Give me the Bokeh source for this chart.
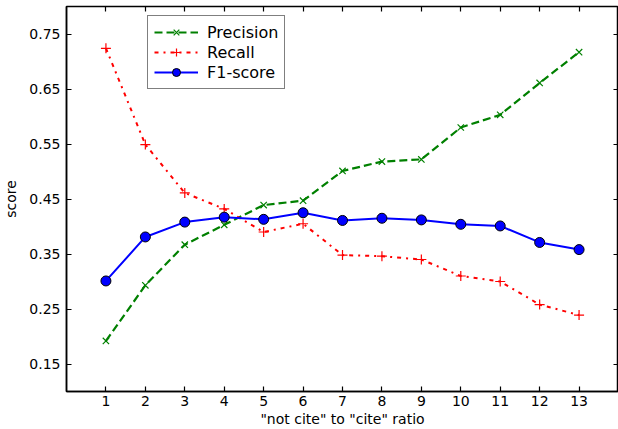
from bokeh.plotting import figure
from bokeh.models import LinearAxis, Legend, LegendItem, FixedTicker, Range1d
from bokeh.embed import file_html
from bokeh.resources import INLINE

ratio = list(range(1, 14))
precision = [0.192, 0.293, 0.367, 0.403, 0.439, 0.447, 0.501, 0.518, 0.522, 0.580, 0.603, 0.661, 0.717]
recall = [0.724, 0.549, 0.461, 0.432, 0.390, 0.405, 0.348, 0.346, 0.340, 0.310, 0.300, 0.258, 0.239]
f1 = [0.301, 0.381, 0.408, 0.417, 0.413, 0.425, 0.411, 0.415, 0.412, 0.404, 0.401, 0.371, 0.358]
y_ticks = [0.15, 0.25, 0.35, 0.45, 0.55, 0.65, 0.75]

FONT = "DejaVu Sans"

p = figure(width=618, height=429, output_backend="svg", toolbar_location=None,
           x_range=Range1d(0, 14), y_range=Range1d(0.1, 0.8),
           min_border_left=0, min_border_right=0, min_border_top=6, min_border_bottom=0)
p.grid.visible = False
p.outline_line_color = "black"
p.outline_line_width = 1.5

for ax in (p.xaxis[0], p.yaxis[0]):
    ax.major_tick_in = 5
    ax.major_tick_out = 0
    ax.minor_tick_in = 0
    ax.minor_tick_out = 0
    ax.major_label_text_font = FONT
    ax.major_label_text_font_size = "14px"
    ax.major_label_text_color = "black"
    ax.axis_label_text_font = FONT
    ax.axis_label_text_font_size = "14px"
    ax.axis_label_text_font_style = "normal"
    ax.axis_label_text_color = "black"
    ax.axis_line_width = 1.5
    ax.major_tick_line_width = 1.2

p.xaxis[0].ticker = FixedTicker(ticks=ratio)
p.yaxis[0].ticker = FixedTicker(ticks=y_ticks)
p.xaxis[0].axis_label = '"not cite" to "cite" ratio'
p.yaxis[0].axis_label = "score"
p.xaxis[0].axis_label_standoff = 2
p.yaxis[0].axis_label_standoff = 7
p.xaxis[0].major_label_standoff = 4
p.yaxis[0].major_label_standoff = 6

top = LinearAxis(ticker=FixedTicker(ticks=ratio),
                 major_label_overrides={t: "" for t in ratio},
                 major_tick_in=5, major_tick_out=0, minor_tick_in=0, minor_tick_out=0,
                 major_label_standoff=0, axis_label_standoff=0, axis_line_color=None,
                 major_tick_line_width=1.2)
right = LinearAxis(ticker=FixedTicker(ticks=y_ticks),
                   major_label_overrides={t: "" for t in y_ticks},
                   major_tick_in=5, major_tick_out=0, minor_tick_in=0, minor_tick_out=0,
                   major_label_standoff=0, axis_label_standoff=0, axis_line_color=None,
                   major_tick_line_width=1.2)
p.add_layout(top, "above")
p.add_layout(right, "right")

green = "#008000"
red = "#ff0000"
blue = "#0000ff"

r1 = p.line(ratio, precision, line_color=green, line_width=2.2, line_dash="8 4")
m1 = p.scatter(ratio, precision, marker="x", size=9, line_color=green, line_width=1.2)
r2 = p.line(ratio, recall, line_color=red, line_width=2, line_dash="4 5 2 5")
m2 = p.scatter(ratio, recall, marker="cross", size=10, line_color=red, line_width=1.2)
r3 = p.line(ratio, f1, line_color=blue, line_width=2)
m3 = p.scatter(ratio, f1, marker="circle", size=10, fill_color=blue, line_color="black", line_width=1)

legend = Legend(items=[LegendItem(label="Precision", renderers=[r1, m1]),
                       LegendItem(label="Recall", renderers=[r2, m2]),
                       LegendItem(label="F1-score", renderers=[r3, m3])],
                location=(81, 302))
legend.label_text_font = FONT
legend.label_text_font_size = "16px"
legend.label_text_color = "black"
legend.border_line_color = "black"
legend.border_line_width = 1.2
legend.glyph_width = 44
legend.glyph_height = 20
legend.spacing = 0
legend.padding = 6
legend.margin = 0
legend.label_standoff = 9
legend.label_height = 20
legend.background_fill_alpha = 1
p.add_layout(legend, "center")

open("out.html", "w").write(file_html(p, INLINE))
